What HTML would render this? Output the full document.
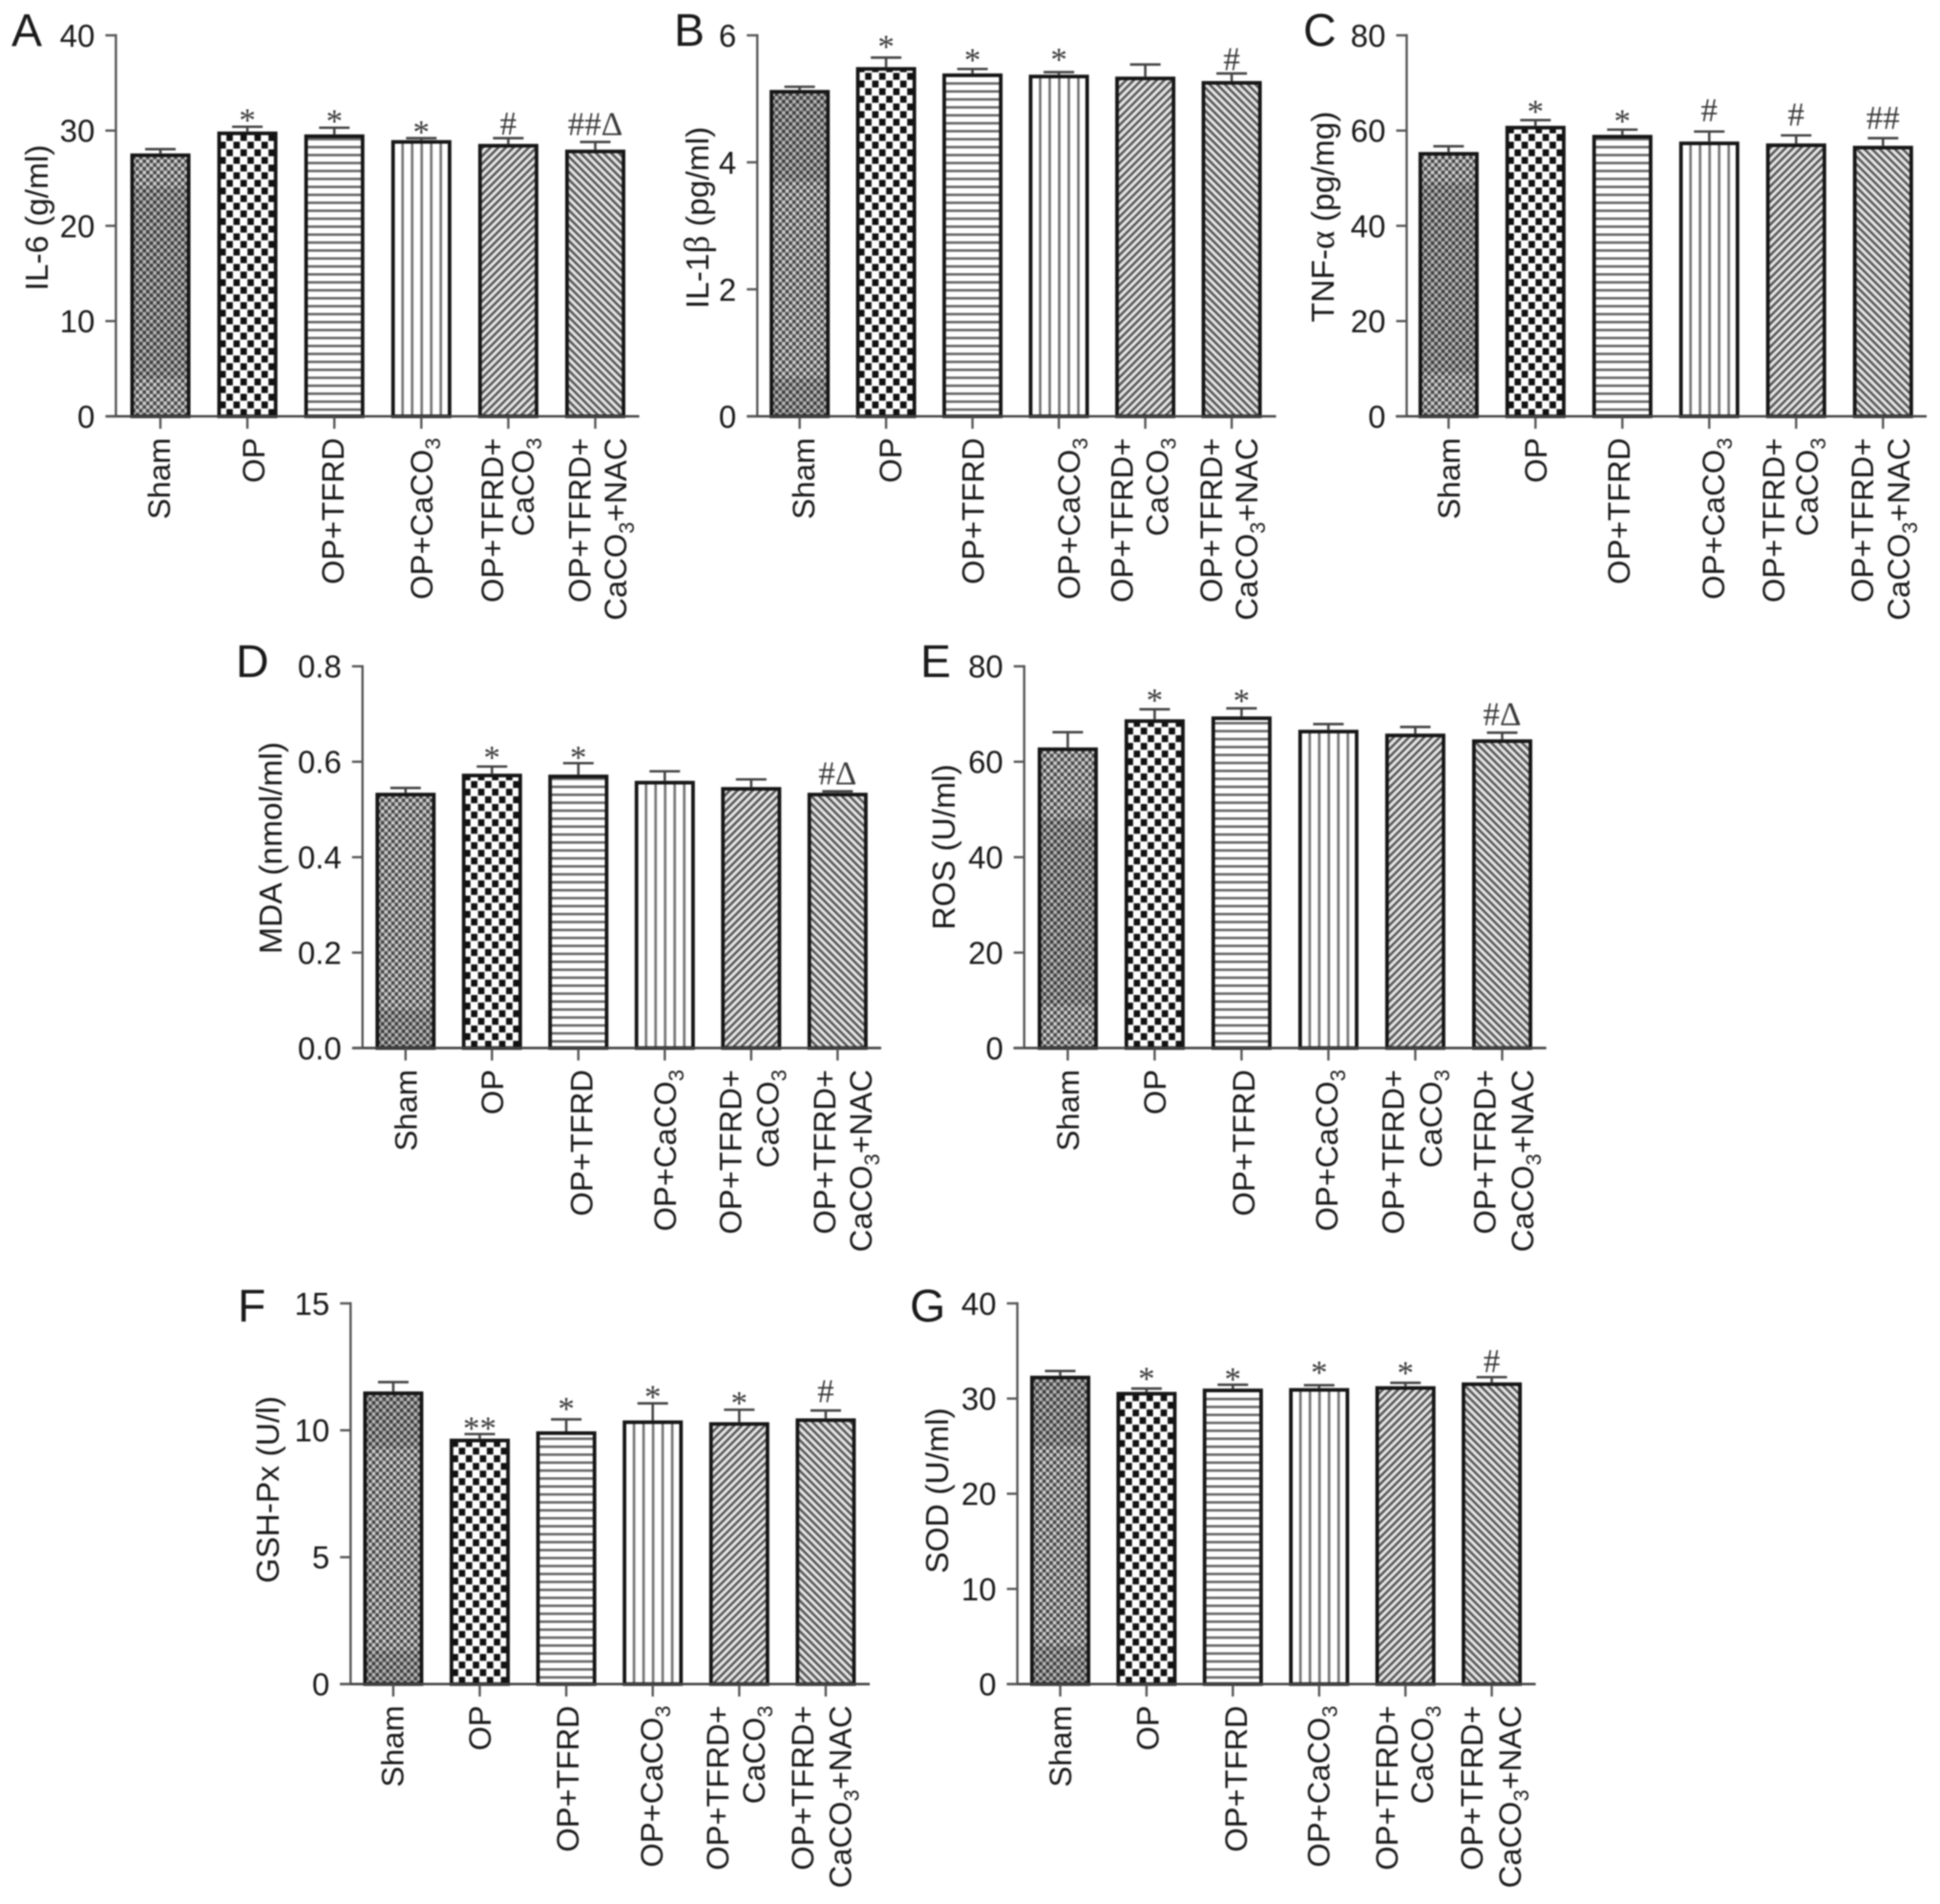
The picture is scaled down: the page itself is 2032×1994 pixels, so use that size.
<!DOCTYPE html>
<html lang="en">
<head>
<meta charset="utf-8">
<title>Cytokine and oxidative stress bar charts</title>
<style>
html,body{margin:0;padding:0;background:#fff;}
#figure{display:block;width:2032px;height:1994px;filter:blur(0.7px);}
text{font-family:"Liberation Sans",sans-serif;fill:#1a1a1a;}
.greek,.sig{font-family:"Liberation Serif",serif;}
.sig{fill:#3a3a3a;}
</style>
</head>
<body>
<svg id="figure" xmlns="http://www.w3.org/2000/svg" width="2032" height="1994" viewBox="0 0 2032 1994">
<defs>
<pattern id="fill-dots" patternUnits="userSpaceOnUse" width="7.3" height="7.8">
<rect width="7.3" height="7.8" fill="#cccccc"/>
<rect width="3.65" height="3.9" fill="#484848"/>
<rect x="3.65" y="3.9" width="3.65" height="3.9" fill="#484848"/>
</pattern>
<pattern id="fill-checker" patternUnits="userSpaceOnUse" width="14.67" height="16">
<rect width="14.67" height="16" fill="#fff"/>
<rect x="0.35" y="0.4" width="6.7" height="7.2" fill="#111"/>
<rect x="7.68" y="8.4" width="6.7" height="7.2" fill="#111"/>
</pattern>
<pattern id="fill-horizontal" patternUnits="userSpaceOnUse" width="8" height="8.33">
<rect width="8" height="8.33" fill="#fff"/>
<rect width="8" height="2.6" fill="#666"/>
</pattern>
<pattern id="fill-vertical" patternUnits="userSpaceOnUse" width="10" height="8">
<rect width="10" height="8" fill="#fff"/>
<rect width="1.3" height="8" fill="#707070"/>
<rect x="8.7" width="1.3" height="8" fill="#707070"/>
</pattern>
<pattern id="fill-diag-up" patternUnits="userSpaceOnUse" width="5.66" height="5.66" patternTransform="rotate(45)">
<rect width="5.66" height="5.66" fill="#e4e4e4"/>
<rect width="2.5" height="5.66" fill="#555"/>
</pattern>
<pattern id="fill-diag-down" patternUnits="userSpaceOnUse" width="5.66" height="5.66" patternTransform="rotate(-45)">
<rect width="5.66" height="5.66" fill="#e4e4e4"/>
<rect width="2.5" height="5.66" fill="#555"/>
</pattern>
</defs>
</svg>
<script>
// ---- data ----
const categories = ['Sham', 'OP', 'OP+TFRD', 'OP+CaCO3', 'OP+TFRD+CaCO3', 'OP+TFRD+CaCO3+NAC'];

const il6Values = [27.6, 29.9, 29.6, 29.0, 28.6, 28.0];
const il6Errors = [0.45, 0.5, 0.7, 0.2, 0.6, 0.8];
const il6Ticks = ['0', '10', '20', '30', '40'];
const il6Marks = ['', '*', '*', '*', '#', '##\u0394'];

const il1bValues = [5.14, 5.5, 5.4, 5.38, 5.35, 5.28];
const il1bErrors = [0.05, 0.15, 0.07, 0.04, 0.19, 0.12];
const il1bTicks = ['0', '2', '4', '6'];
const il1bMarks = ['', '*', '*', '*', '', '#'];

const tnfValues = [55.5, 61, 59.1, 57.7, 57.3, 56.8];
const tnfErrors = [1.2, 1.2, 1.1, 2.1, 1.7, 1.6];
const tnfTicks = ['0', '20', '40', '60', '80'];
const tnfMarks = ['', '*', '*', '#', '#', '##'];

const mdaValues = [0.535, 0.575, 0.573, 0.56, 0.547, 0.535];
const mdaErrors = [0.01, 0.015, 0.024, 0.02, 0.016, 0.003];
const mdaTicks = ['0.0', '0.2', '0.4', '0.6', '0.8'];
const mdaMarks = ['', '*', '*', '', '', '#\u0394'];

const rosValues = [63, 68.9, 69.5, 66.7, 65.9, 64.7];
const rosErrors = [3.2, 2.1, 1.7, 1.2, 1.4, 1.4];
const rosTicks = ['0', '20', '40', '60', '80'];
const rosMarks = ['', '*', '*', '', '', '#\u0394'];

const gshValues = [11.53, 9.67, 9.96, 10.39, 10.32, 10.47];
const gshErrors = [0.37, 0.18, 0.47, 0.67, 0.49, 0.31];
const gshTicks = ['0', '5', '10', '15'];
const gshMarks = ['', '**', '*', '*', '*', '#'];

const sodValues = [32.4, 30.7, 31.05, 31.1, 31.3, 31.7];
const sodErrors = [0.5, 0.35, 0.4, 0.3, 0.35, 0.55];
const sodTicks = ['0', '10', '20', '30', '40'];
const sodMarks = ['', '*', '*', '*', '*', '#'];

// darker moire bands visible in the Sham bar (value ranges)
const il6ShamBands = [[24, 4]];
const il1bShamBands = [[5.14, 3.7], [0.6, 0]];
const tnfShamBands = [[49, 9]];
const mdaShamBands = [[0.08, 0]];
const rosShamBands = [[48, 9]];
const gshShamBands = [[11.53, 9.3], [1.3, 0]];
const sodShamBands = [[32.4, 25], [4, 0]];

// ---- layout ----
const panels = [
  {id:'a', letter:'A', lx:12, ly:48, title:'IL-6 (g/ml)', tx:38, ty:228,
   axisX:121.4, top:37, base:436, xFrom:111.6, xTo:669.6, first:168, step:91.1,
   values:il6Values, errors:il6Errors, ticks:il6Ticks, marks:il6Marks, bands:il6ShamBands,
   gaps:[0,11.8,11.8,11.4,3.8,7], dx:[-1.5,6,-2,0,[-17,15],[-16.5,21]]},
  {id:'b', letter:'B', lx:706, ly:48, title:'IL-1\u03B2 (pg/ml)', tx:730, ty:228,
   axisX:793.2, top:37, base:436, xFrom:782.4, xTo:1336.6, first:837.6, step:90.5,
   values:il1bValues, errors:il1bErrors, ticks:il1bTicks, marks:il1bMarks, bands:il1bShamBands,
   gaps:[0,16,14,18,0,3.4], dx:[3.5,4,0,10,[-25,12],[-22,15]]},
  {id:'c', letter:'C', lx:1365, ly:48, title:'TNF-\u03B1 (pg/mg)', tx:1385, ty:227,
   axisX:1473.4, top:37, base:436, xFrom:1462, xTo:2018, first:1517.3, step:91,
   values:tnfValues, errors:tnfErrors, ticks:tnfTicks, marks:tnfMarks, bands:tnfShamBands,
   gaps:[0,13.5,13.5,10.5,10,9.7], dx:[0,0,-4,4,[-24,11],[-22,16]]},
  {id:'d', letter:'D', lx:247, ly:709, title:'MDA (nmol/ml)', tx:283, ty:888,
   axisX:379.7, top:697.8, base:1097.6, xFrom:369.5, xTo:923, first:424.8, step:90.5,
   values:mdaValues, errors:mdaErrors, ticks:mdaTicks, marks:mdaMarks, bands:mdaShamBands,
   gaps:[0,14,10.5,0,0,7], dx:[0,0,3,0,[-22,17],[-14,24]]},
  {id:'e', letter:'E', lx:964, ly:709, title:'ROS (U/ml)', tx:988, ty:887,
   axisX:1072.8, top:697.8, base:1097.6, xFrom:1061.6, xTo:1619.6, first:1118.4, step:91,
   values:rosValues, errors:rosErrors, ticks:rosTicks, marks:rosMarks, bands:rosShamBands,
   gaps:[0,14,12.6,0,0,7.6], dx:[0,0,2,-2,[-23.5,16],[-18.7,21]]},
  {id:'f', letter:'F', lx:249, ly:1384, title:'GSH-Px (U/l)', tx:280, ty:1560,
   axisX:367.2, top:1365, base:1763.7, xFrom:356, xTo:911, first:411.9, step:90.6,
   values:gshValues, errors:gshErrors, ticks:gshTicks, marks:gshMarks, bands:gshShamBands,
   gaps:[0,11,16,11.7,11.7,8.8], dx:[-1,0,1,-1.5,[-23,15],[-24.4,15]]},
  {id:'g', letter:'G', lx:953, ly:1384, title:'SOD (U/ml)', tx:981, ty:1561,
   axisX:1065.6, top:1365, base:1763.7, xFrom:1054.5, xTo:1608.5, first:1110.5, step:90.4,
   values:sodValues, errors:sodErrors, ticks:sodTicks, marks:sodMarks, bands:sodShamBands,
   gaps:[0,15,10.8,18,15.4,5.4], dx:[0,1,3,-1,[-20,17],[-21,18.6]]}
];
const fills = ['fill-dots', 'fill-checker', 'fill-horizontal', 'fill-vertical', 'fill-diag-up', 'fill-diag-down'];
const BAR_OUTER = 63, BAR_STROKE = 3.8, CAP_W = 32, FONT = 32.7, TITLE_FONT = 33.6, TICK_FONT = 33, SIG_FONT = 35;

const NS = 'http://www.w3.org/2000/svg';
const figure = document.getElementById('figure');

function make(tag, attrs, parent) {
  const el = document.createElementNS(NS, tag);
  for (const k in attrs) el.setAttribute(k, attrs[k]);
  parent.appendChild(el);
  return el;
}
function addSpan(parent, text, attrs) {
  const sp = make('tspan', attrs, parent);
  sp.textContent = text;
  return sp;
}
// chemical formula text with the 3 of CaCO3 as subscript
function fillChem(textEl, str) {
  const parts = str.split('CaCO3');
  parts.forEach(function (p, i) {
    if (i > 0) {
      addSpan(textEl, 'CaCO', {});
      addSpan(textEl, '3', {'font-size': 22, dy: 8});
      if (p) addSpan(textEl, p, {dy: -8});
    } else if (p) {
      addSpan(textEl, p, {});
    }
  });
}
// axis title with greek glyph in serif
function fillTitle(textEl, str) {
  str.split(/([\u0370-\u03FF])/).forEach(function (p) {
    if (!p) return;
    addSpan(textEl, p, /[\u0370-\u03FF]/.test(p) ? {'class': 'greek', 'font-size': 37} : {});
  });
}

panels.forEach(function (p) {
  const tickNums = p.ticks.map(Number);
  const vMax = Math.max.apply(null, tickNums);
  const yScale = function (v) { return p.base - (v / vMax) * (p.base - p.top); };
  const xScale = function (i) { return p.first + i * p.step; };

  const g = make('g', {}, figure);
  
  

  const letter = make('text', {x: p.lx, y: p.ly, 'font-size': 48, fill: '#1a1a1a'}, g);
  letter.textContent = p.letter;
  
  

  const title = make('text', {transform: 'translate(' + (p.tx + 12) + ',' + p.ty + ') rotate(-90)', 'text-anchor': 'middle', 'font-size': TITLE_FONT}, g);
  fillTitle(title, p.title);
  
  

  // bars first so that axes sit on top at the baseline
  categories.forEach(function (cat, i) {
    const cx = xScale(i);
    const v = p.values[i];
    const yTop = yScale(v);
    const yErr = yScale(v + p.errors[i]);
    const left = cx - BAR_OUTER / 2;
    const inner = BAR_OUTER - BAR_STROKE;
    const h = p.base - yTop - BAR_STROKE / 2;

    const stem = make('line', {x1: cx, x2: cx, y1: yErr, y2: yTop, stroke: '#444', 'stroke-width': 2.6}, g);
    
    

    const cap = make('line', {x1: cx - CAP_W / 2, x2: cx + CAP_W / 2, y1: yErr, y2: yErr, stroke: '#444', 'stroke-width': 2.6}, g);
    
    

    // translating the group anchors each pattern to its own bar
    const barG = make('g', {transform: 'translate(' + (left + BAR_STROKE / 2) + ',' + p.base + ')'}, g);
    
    

    const bar = make('rect', {x: 0, y: -h, width: inner, height: h, fill: 'url(#' + fills[i] + ')', stroke: '#161616', 'stroke-width': BAR_STROKE}, barG);
    
    

    if (i === 0) {
      p.bands.forEach(function (b) {
        const y1 = yScale(Math.min(b[0], v));
        const y2 = yScale(Math.min(b[1], v));
        const shade = make('rect', {x: left + BAR_STROKE, y: Math.max(y1, yTop + BAR_STROKE), width: BAR_OUTER - 2 * BAR_STROKE, height: Math.max(0, y2 - Math.max(y1, yTop + BAR_STROKE)), fill: '#000', 'fill-opacity': 0.11}, g);
        
        
      });
    }

    const mark = p.marks[i];
    if (mark) {
      const isStar = mark.charAt(0) === '*';
      const y = isStar ? yErr - p.gaps[i] + SIG_FONT * 0.47 : yErr - p.gaps[i];
      const sig = make('text', {'class': 'sig', x: cx, y: y, 'text-anchor': 'middle', 'font-size': SIG_FONT}, g);
      sig.textContent = mark;
      
      
    }

    const tickX = make('line', {x1: cx, x2: cx, y1: p.base, y2: p.base + 13, stroke: '#555', 'stroke-width': 2.4}, g);
    
    

    // category labels, rotated; two-line labels break after "OP+TFRD+"
    const lines = cat.indexOf('OP+TFRD+') === 0 ? ['OP+TFRD+', cat.slice(8)] : [cat];
    const offs = Array.isArray(p.dx[i]) ? p.dx[i] : [p.dx[i]];
    lines.forEach(function (ln, k) {
      const lab = make('text', {transform: 'translate(' + (cx + offs[k] + 11.7) + ',' + (p.base + 22.5) + ') rotate(-90)', 'text-anchor': 'end', 'font-size': FONT}, g);
      fillChem(lab, ln);
      
      
    });
  });

  const yAxis = make('line', {x1: p.axisX, x2: p.axisX, y1: p.top - 1.2, y2: p.base, stroke: '#555', 'stroke-width': 2.4}, g);
  
  

  const xAxis = make('line', {x1: p.xFrom, x2: p.xTo, y1: p.base, y2: p.base, stroke: '#444', 'stroke-width': 2.6}, g);
  
  

  p.ticks.forEach(function (t) {
    const y = yScale(Number(t));
    const tick = make('line', {x1: p.axisX - 11, x2: p.axisX, y1: y, y2: y, stroke: '#555', 'stroke-width': 2.4}, g);
    
    

    const lab = make('text', {x: p.axisX - 22, y: y + 11.8, 'text-anchor': 'end', 'font-size': TICK_FONT}, g);
    lab.textContent = t;
    
    
  });
});
</script>
</body>
</html>
